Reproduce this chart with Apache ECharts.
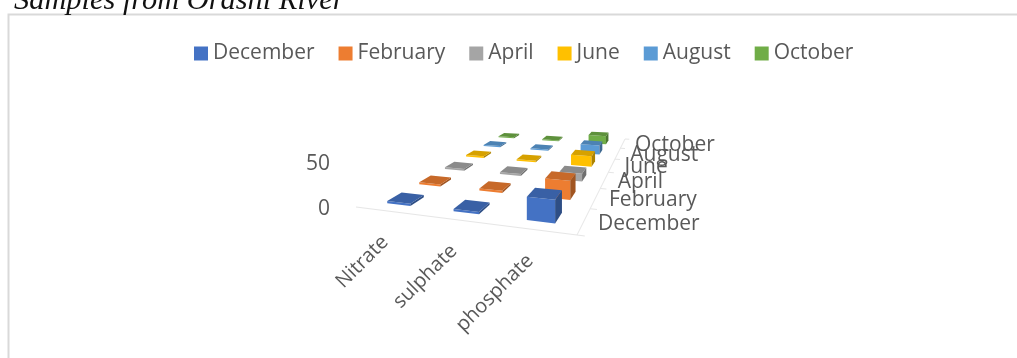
<!DOCTYPE html>
<html>
<head>
<meta charset="utf-8">
<style>
html,body{margin:0;padding:0;background:#fff;width:1017px;height:358px;overflow:hidden}
#chart{width:1017px;height:358px}
</style>
<script src="https://cdn.jsdelivr.net/npm/echarts@6/dist/echarts.min.js"></script>
</head>
<body>
<div id="chart"></div>
<script>
// Nutrient concentrations per sampling month, Orashi River
const nutrients = ['Nitrate', 'sulphate', 'phosphate'];
const months = ['December', 'February', 'April', 'June', 'August', 'October'];
const december = [2.5, 2.5, 24];
const february = [2.5, 2.5, 22];
const april = [2.5, 2.5, 10];
const june = [2.5, 2, 15];
const august = [2, 2, 14];
const october = [2, 1.5, 14];
const monthValues = [december, february, april, june, august, october];
const colors = ['#4472C4', '#ED7D31', '#A5A5A5', '#FFC000', '#5B9BD5', '#70AD47'];
const valueTicks = [0, 50];

const textFont = '"Open Sans", sans-serif';
const textColor = '#595959';

// Floor of the 3D plot: a perspective quad given by its screen corners
const corners = { fl: [356, 207], fr: [577, 235], br: [625, 139], bl: [495, 131] };

// Homography from the unit square (u along nutrients, v along months) to the screen
const H = (function () {
  const [x0, y0] = corners.fl, [x1, y1] = corners.fr, [x2, y2] = corners.br, [x3, y3] = corners.bl;
  const dx1 = x1 - x2, dx2 = x3 - x2, sx = x0 - x1 + x2 - x3;
  const dy1 = y1 - y2, dy2 = y3 - y2, sy = y0 - y1 + y2 - y3;
  const d = dx1 * dy2 - dx2 * dy1;
  const g = (sx * dy2 - dx2 * sy) / d, h = (dx1 * sy - sx * dy1) / d;
  return { a: x1 - x0 + g * x1, b: x3 - x0 + h * x3, c: x0, d: y1 - y0 + g * y1, e: y3 - y0 + h * y3, f: y0, g, h };
})();

// Screen position of a floor point raised by `lift` pixels (measured at the front edge)
function project(u, v, lift) {
  const w = H.g * u + H.h * v + 1;
  return [(H.a * u + H.b * v + H.c) / w, (H.d * u + H.e * v + H.f) / w - lift / w];
}

// Darkens a #rrggbb colour by a factor, for the shaded faces of a bar
function shade(hex, factor) {
  const n = parseInt(hex.slice(1), 16);
  const ch = (s) => Math.round(((n >> s) & 255) * factor);
  return 'rgb(' + ch(16) + ',' + ch(8) + ',' + ch(0) + ')';
}

const cellFillU = 0.36;
const cellFillV = 0.42;

function renderBar(params, api) {
  const cat = api.value(0), depth = api.value(1), val = api.value(2);
  const lift = Math.abs(api.size([0, val])[1]);
  const du = cellFillU / nutrients.length / 2, dv = cellFillV / months.length / 2;
  const uc = (cat + 0.5) / nutrients.length, vc = (depth + 0.5) / months.length;
  const p = (su, sv, l) => project(uc + su * du, vc + sv * dv, l);
  const base = colors[depth];
  const face = (pts, fill) => ({ type: 'polygon', shape: { points: pts }, style: { fill } });
  return {
    type: 'group',
    children: [
      face([p(-1, -1, 0), p(1, -1, 0), p(1, -1, lift), p(-1, -1, lift)], base),
      face([p(1, -1, 0), p(1, 1, 0), p(1, 1, lift), p(1, -1, lift)], shade(base, 0.68)),
      face([p(-1, -1, lift), p(1, -1, lift), p(1, 1, lift), p(-1, 1, lift)], shade(base, 0.84))
    ]
  };
}

// Floor edges, month ticks and the labels along the two floor axes
function renderFrame(params, api) {
  if (params.dataIndex > 0) return null;
  const line = (a, b) => ({
    type: 'line',
    shape: { x1: a[0], y1: a[1], x2: b[0], y2: b[1] },
    style: { stroke: '#e6e6e6', lineWidth: 1 }
  });
  const children = [
    line(project(0, 0, 0), project(1, 0, 0)),
    line(project(1, 0, 0), project(1, 1, 0))
  ];
  for (let i = 0; i <= months.length; i++) {
    const v = i / months.length;
    children.push(line(project(1, v, 0), project(1.03, v, 0)));
  }
  months.forEach((m, i) => {
    const v = (i + 0.5) / months.length;
    const pt = project(1.055 + 0.03 * v, v, 0);
    children.push({
      type: 'text',
      style: { x: pt[0], y: pt[1] + 1, text: m, font: '21px ' + textFont, fill: textColor, textAlign: 'left', textVerticalAlign: 'middle' }
    });
  });
  nutrients.forEach((n, i) => {
    const pt = project((i + 0.5) / nutrients.length, 0, 0);
    children.push({
      type: 'text',
      x: pt[0] - 3 - i, y: pt[1] + 28, rotation: Math.PI / 4,
      style: { x: 0, y: 0, text: n, font: '20px ' + textFont, fill: textColor, textAlign: 'right', textVerticalAlign: 'middle' }
    });
  });
  return { type: 'group', children };
}

const barSeries = months.map((m, d) => ({
  name: m,
  type: 'custom',
  coordinateSystem: 'cartesian2d',
  z: 10 + months.length - d,
  itemStyle: { color: colors[d] },
  renderItem: renderBar,
  encode: { x: 0, y: 2 },
  silent: true,
  data: monthValues[d].map((v, c) => [c, d, v])
}));

const chart = echarts.init(document.getElementById('chart'), null, { renderer: 'canvas' });
chart.setOption({
  animation: false,
  backgroundColor: '#fff',
  title: {
    text: 'Samples from Orashi River',
    left: 9, top: -19,
    textStyle: { fontFamily: '"Liberation Serif", serif', fontStyle: 'italic', fontWeight: 'normal', fontSize: 30.4, color: '#111' }
  },
  graphic: [{
    type: 'rect', silent: true, z: 0,
    shape: { x: 8.5, y: 14.5, width: 1060, height: 400 },
    style: { fill: 'none', stroke: '#d9d9d9', lineWidth: 2 }
  }],
  legend: {
    data: months,
    top: 38, left: 189,
    itemWidth: 14, itemHeight: 14, itemGap: 24,
    icon: 'rect',
    textStyle: { fontFamily: textFont, fontSize: 21, color: textColor }
  },
  grid: { left: 356, top: 164, width: 221, height: 45 },
  xAxis: { type: 'value', min: 0, max: 2, show: false },
  yAxis: {
    type: 'value', min: 0, max: 50, interval: 50,
    axisLine: { show: false }, axisTick: { show: false }, splitLine: { show: false },
    axisLabel: {
      fontFamily: textFont, fontSize: 21, color: textColor, margin: 26,
      customValues: valueTicks
    }
  },
  series: barSeries.concat([{
    type: 'custom',
    name: 'axes',
    z: 5,
    silent: true,
    renderItem: renderFrame,
    data: [[0, 0]]
  }])
});
</script>
</body>
</html>
